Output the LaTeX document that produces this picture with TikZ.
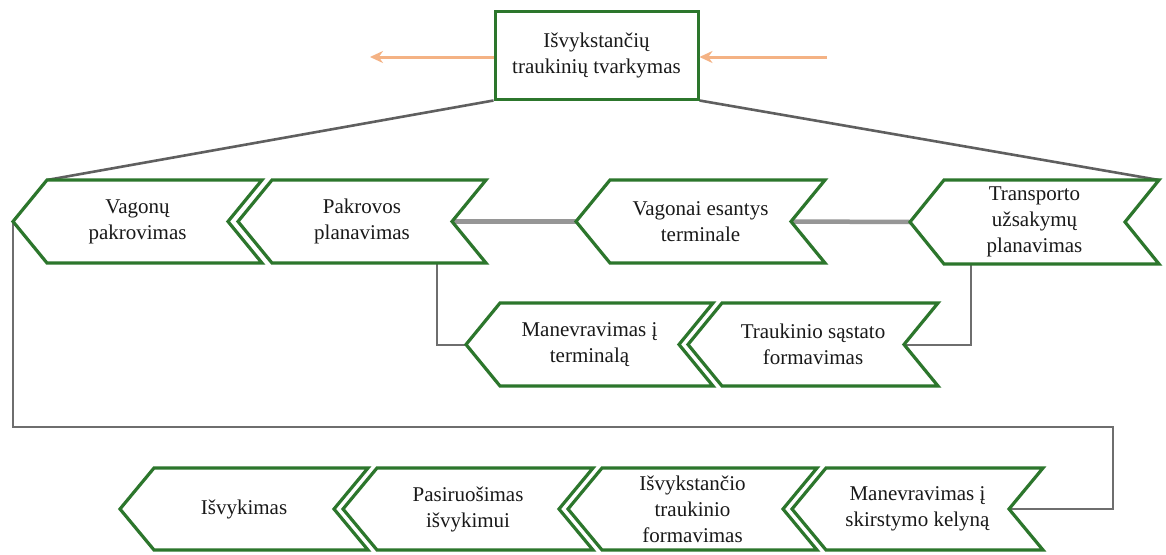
\documentclass[tikz,border=0pt]{standalone}
\usepackage{fontspec}
\setmainfont{Liberation Serif}
\usetikzlibrary{arrows.meta,backgrounds}

\definecolor{boxgreen}{RGB}{44,118,44}
\definecolor{tiegray}{RGB}{95,95,95}
\definecolor{railgray}{RGB}{150,150,150}
\definecolor{linkgray}{RGB}{110,110,110}
\definecolor{floworange}{RGB}{244,178,132}
\definecolor{txt}{RGB}{25,25,25}

\newcommand\chevdepth{34}
% chevron: name, left x, right x, top y, bottom y, text
\newcommand\drawchev[6]{%
  \path[chevbox] (#2,#4) -- (#3,#4) -- ({#3-\chevdepth},{(#4+#5)/2}) -- (#3,#5)
     -- (#2,#5) -- ({#2-\chevdepth},{(#4+#5)/2}) -- cycle;
  \coordinate (#1-pt) at ({#2-\chevdepth},{(#4+#5)/2});
  \coordinate (#1-notch) at ({#3-\chevdepth},{(#4+#5)/2});
  \coordinate (#1-tl) at (#2,#4);
  \coordinate (#1-tr) at (#3,#4);
  \node[chevtext] (#1) at ({(#2+#3-\chevdepth)/2},{(#4+#5)/2}) {#6};
}

\tikzset{
  chevbox/.style={draw=boxgreen, line width=3.2pt, fill=white, line join=miter},
  chevtext/.style={align=center, text=txt, inner sep=0pt,
    font=\fontsize{21}{26}\selectfont},
  topbox/.style={draw=boxgreen, line width=3pt, fill=white, align=center,
    text=txt, minimum width=203pt, minimum height=88pt, inner sep=0pt,
    font=\fontsize{21}{26}\selectfont},
  flowarrow/.style={draw=floworange, line width=3pt,
    -{Stealth[length=13pt,width=12pt]}},
  tieline/.style={draw=tiegray, line width=2.6pt},
  railline/.style={draw=railgray, line width=4.5pt},
  linkline/.style={draw=linkgray, line width=2pt},
}

\begin{document}
\begin{tikzpicture}[x=1pt,y=-1pt]
\useasboundingbox (0,0) rectangle (1166,554);

% head process
\node[topbox] (top) at (596.5,55) {Išvykstančių\\traukinių tvarkymas};
\coordinate (outtip) at (370,57);
\coordinate (instart) at (827,57);
\draw[flowarrow] (top.west |- outtip) -- (outtip);
\draw[flowarrow] (instart) -- (top.east |- instart);

% first row
\drawchev{c1}{47}{262}{180}{263}{Vagonų\\pakrovimas}
\drawchev{c2}{272}{486}{180}{263}{Pakrovos\\planavimas}
\drawchev{c3}{610}{825}{180}{263}{Vagonai esantys\\terminale}
\drawchev{c4}{944}{1159}{180}{264}{Transporto\\užsakymų\\planavimas}

% second row
\drawchev{c5}{500}{713}{303}{386}{Manevravimas į\\terminalą}
\drawchev{c6}{722}{938}{303}{386}{Traukinio sąstato\\formavimas}

% third row
\drawchev{c7}{154}{368}{468}{550}{Išvykimas}
\drawchev{c8}{377}{593}{468}{550}{Pasiruošimas\\išvykimui}
\drawchev{c9}{602}{817}{468}{550}{Išvykstančio\\traukinio\\formavimas}
\drawchev{c10}{826}{1043}{468}{550}{Manevravimas į\\skirstymo kelyną}

\coordinate (c2-drop) at (437,263);
\coordinate (c4-drop) at (971,264);
\coordinate (loopcorner) at (1113,427);

% connectors sit behind the shapes
\begin{pgfonlayer}{background}
  \fill[white] (0,0) rectangle (1166,554);
  \draw[tieline] (top.south west) -- (c1-tl);
  \draw[tieline] (top.south east) -- (c4-tr);
  \draw[railline] (c2-notch) -- (c3-pt);
  \draw[railline] (c3-notch) -- (c4-pt);
  \draw[linkline] (c2-drop) |- (c5-pt);
  \draw[linkline] (c4-drop) |- (c6-notch);
  \draw[linkline] (c1-pt) |- (loopcorner) |- (c10-notch);
\end{pgfonlayer}
\end{tikzpicture}
\end{document}
